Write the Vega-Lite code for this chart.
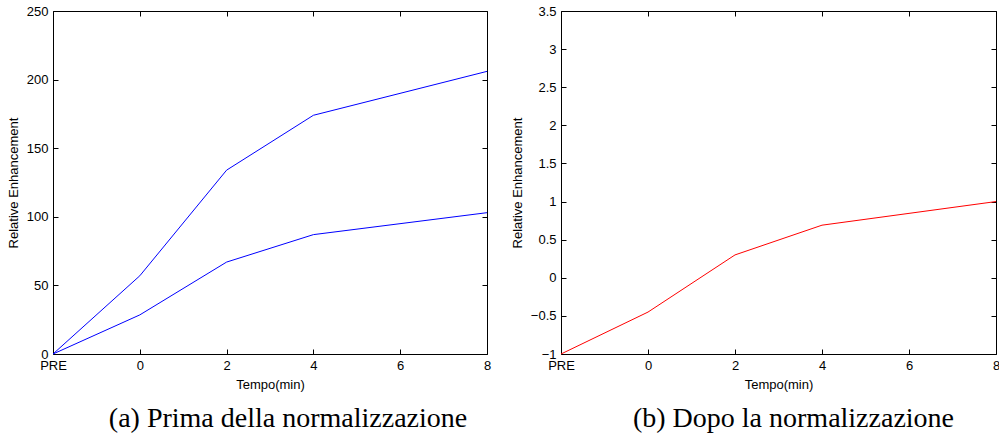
{
  "$schema": "https://vega.github.io/schema/vega-lite/v6.json",
  "padding": {"left": 6, "top": 4, "right": 0, "bottom": 0},
  "background": "white",
  "spacing": 18,
  "config": {
    "font": "Liberation Sans",
    "view": {"stroke": "black", "strokeWidth": 1},
    "axis": {
      "domain": false,
      "grid": false,
      "tickSize": -5,
      "tickColor": "black",
      "tickWidth": 1,
      "labelColor": "black",
      "titleColor": "black",
      "labelFont": "Liberation Sans",
      "titleFont": "Liberation Sans",
      "labelFontSize": 13,
      "titleFontSize": 13,
      "titleFontWeight": "normal",
      "labelFlush": false,
      "labelOverlap": false,
      "labelPadding": 10,
      "titlePadding": 6
    }
  },
  "hconcat": [
    {
      "width": 434,
      "height": 343,
      "title": {"text": "(a) Prima della normalizzazione", "orient": "bottom", "anchor": "middle", "frame": "group", "dx": 18, "offset": 14, "font": "Liberation Serif", "fontSize": 28, "fontWeight": "normal", "color": "black"},
      "data": {"values": [
        {"t": -2, "v": 0, "s": "a"},
        {"t": 0, "v": 57, "s": "a"},
        {"t": 2, "v": 134, "s": "a"},
        {"t": 4, "v": 174, "s": "a"},
        {"t": 8, "v": 206, "s": "a"},
        {"t": -2, "v": 0, "s": "b"},
        {"t": 0, "v": 28.5, "s": "b"},
        {"t": 2, "v": 67, "s": "b"},
        {"t": 4, "v": 87, "s": "b"},
        {"t": 8, "v": 103, "s": "b"}
      ]},
      "layer": [
        {
          "mark": {"type": "line", "color": "#0000ff", "strokeWidth": 1},
          "encoding": {
            "x": {"field": "t", "type": "quantitative", "scale": {"domain": [-2, 8], "nice": false, "zero": false},
                  "axis": {"values": [-2, 0, 2, 4, 6, 8], "labelExpr": "datum.value == -2 ? 'PRE' : datum.label", "title": "Tempo(min)"}},
            "y": {"field": "v", "type": "quantitative", "scale": {"domain": [0, 250], "nice": false},
                  "axis": {"values": [0, 50, 100, 150, 200, 250], "title": "Relative Enhancement"}},
            "detail": {"field": "s"}
          }
        },
        {
          "mark": {"type": "line", "opacity": 0},
          "encoding": {
            "x": {"field": "t", "type": "quantitative", "axis": {"orient": "top", "values": [-2, 0, 2, 4, 6, 8], "labels": false, "title": null}},
            "y": {"field": "v", "type": "quantitative", "axis": {"orient": "right", "values": [0, 50, 100, 150, 200, 250], "labels": false, "title": null}},
            "detail": {"field": "s"}
          }
        }
      ],
      "resolve": {"axis": {"x": "independent", "y": "independent"}}
    },
    {
      "width": 435,
      "height": 343,
      "title": {"text": "(b) Dopo la normalizzazione", "orient": "bottom", "anchor": "middle", "frame": "group", "dx": 15, "offset": 14, "font": "Liberation Serif", "fontSize": 28, "fontWeight": "normal", "color": "black"},
      "data": {"values": [
        {"t": -2, "v": -1},
        {"t": 0, "v": -0.45},
        {"t": 2, "v": 0.3},
        {"t": 4, "v": 0.69},
        {"t": 8, "v": 1.0}
      ]},
      "layer": [
        {
          "mark": {"type": "line", "color": "#ff0000", "strokeWidth": 1},
          "encoding": {
            "x": {"field": "t", "type": "quantitative", "scale": {"domain": [-2, 8], "nice": false, "zero": false},
                  "axis": {"values": [-2, 0, 2, 4, 6, 8], "labelExpr": "datum.value == -2 ? 'PRE' : datum.label", "title": "Tempo(min)"}},
            "y": {"field": "v", "type": "quantitative", "scale": {"domain": [-1, 3.5], "nice": false, "zero": false},
                  "axis": {"values": [-1, -0.5, 0, 0.5, 1, 1.5, 2, 2.5, 3, 3.5], "labelExpr": "replace(format(datum.value, '.2~f'), /[-\u2212]/, '\u2212')", "title": "Relative Enhancement"}}
          }
        },
        {
          "mark": {"type": "line", "opacity": 0},
          "encoding": {
            "x": {"field": "t", "type": "quantitative", "axis": {"orient": "top", "values": [-2, 0, 2, 4, 6, 8], "labels": false, "title": null}},
            "y": {"field": "v", "type": "quantitative", "axis": {"orient": "right", "values": [-1, -0.5, 0, 0.5, 1, 1.5, 2, 2.5, 3, 3.5], "labels": false, "title": null}}
          }
        }
      ],
      "resolve": {"axis": {"x": "independent", "y": "independent"}}
    }
  ]
}
